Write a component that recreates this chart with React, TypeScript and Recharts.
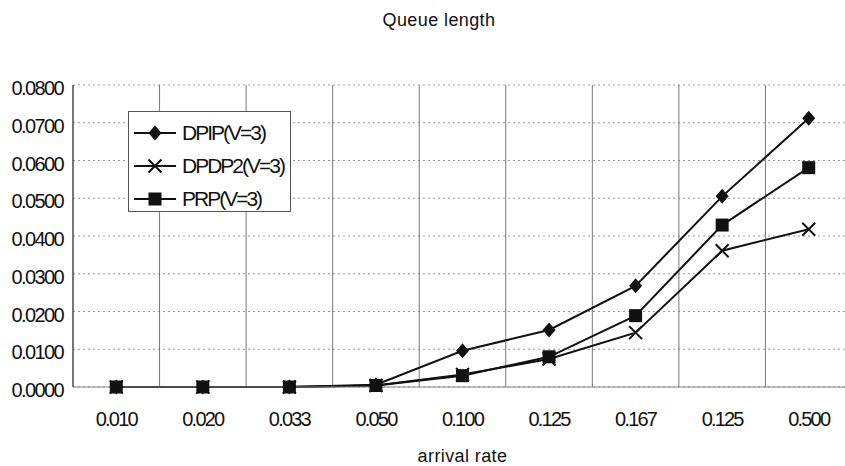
import { LineChart, Line, XAxis, YAxis, CartesianGrid, Legend } from 'recharts';

const rates = ['0.010', '0.020', '0.033', '0.050', '0.100', '0.125', '0.167', '0.125', '0.500'];
const dpip = [0, 0, 0, 0.0006, 0.0096, 0.0151, 0.0268, 0.0505, 0.0712];
const dpdp2 = [0, 0, 0, 0.0004, 0.0033, 0.0074, 0.0144, 0.0361, 0.0418];
const prp = [0, 0, 0, 0.0004, 0.003, 0.008, 0.0189, 0.0429, 0.0581];
const yTicks = [0, 0.01, 0.02, 0.03, 0.04, 0.05, 0.06, 0.07, 0.08];

const data = rates.map((rate, i) => ({ rate, dpip: dpip[i], dpdp2: dpdp2[i], prp: prp[i] }));

const FONT = '"Liberation Sans", Arial, sans-serif';
const INK = '#111';

const CHART_W = 870;
const CHART_H = 466;
const MARGIN = { top: 85, right: 18, left: 0, bottom: 0 };
const Y_AXIS_W = 73;
// half a category slot on each side, so points sit mid-cell
const plotW = CHART_W - MARGIN.left - MARGIN.right - Y_AXIS_W;
const halfSlot = plotW / rates.length / 2;

type MarkerKind = 'diamond' | 'cross' | 'square';

function markerShape(kind: MarkerKind, cx: number, cy: number) {
  if (kind === 'diamond') {
    return <path d={`M${cx},${cy - 7.5} L${cx + 6.5},${cy} L${cx},${cy + 7.5} L${cx - 6.5},${cy} Z`} fill={INK} />;
  }
  if (kind === 'square') {
    return <rect x={cx - 6.5} y={cy - 6.5} width={13} height={13} fill={INK} />;
  }
  return (
    <path d={`M${cx - 6.5},${cy - 6.5} L${cx + 6.5},${cy + 6.5} M${cx + 6.5},${cy - 6.5} L${cx - 6.5},${cy + 6.5}`} stroke={INK} strokeWidth={2} />
  );
}

const dotFor = (kind: MarkerKind) => (props: any) => {
  const { cx, cy, index } = props;
  if (cx == null || cy == null) return <g key={`m-${kind}-${index}`} />;
  return <g key={`m-${kind}-${index}`}>{markerShape(kind, cx, cy)}</g>;
};

const series: { key: string; name: string; kind: MarkerKind }[] = [
  { key: 'dpip', name: 'DPIP(V=3)', kind: 'diamond' },
  { key: 'dpdp2', name: 'DPDP2(V=3)', kind: 'cross' },
  { key: 'prp', name: 'PRP(V=3)', kind: 'square' },
];

function LegendBox() {
  return (
    <div
      style={{
        border: '1px solid #555',
        background: '#fff',
        width: 161,
        height: 95,
        boxSizing: 'content-box',
        fontFamily: FONT,
        fontSize: 21,
        letterSpacing: -2,
        color: INK,
        paddingTop: 4,
      }}
    >
      {series.map((s) => (
        <div key={s.key} style={{ display: 'flex', alignItems: 'center', height: 33 }}>
          <svg width={50} height={20} style={{ marginLeft: 3 }}>
            <line x1={2} y1={10} x2={44} y2={10} stroke={INK} strokeWidth={2} />
            {markerShape(s.kind, 23, 10)}
          </svg>
          <span>{s.name}</span>
        </div>
      ))}
    </div>
  );
}

// vertical grid lines sit on the category boundaries, like a spreadsheet chart
const boundaryLines = ({ offset }: any) =>
  rates.map((_, i) => offset.left + (offset.width * i) / rates.length).concat(offset.left + offset.width);

export default function App() {
  return (
    <div style={{ position: 'absolute', left: 0, top: 0, width: 845, height: 466, overflow: 'hidden', background: '#fff' }}>
      <div
        style={{
          position: 'absolute',
          left: 0,
          width: 878,
          top: 10,
          textAlign: 'center',
          fontFamily: FONT,
          fontSize: 18,
          letterSpacing: 0.4,
          color: INK,
        }}
      >
        Queue length
      </div>
      <LineChart width={CHART_W} height={CHART_H} data={data} margin={MARGIN}>
        <CartesianGrid vertical={false} stroke="#999" strokeDasharray="2 3" />
        <CartesianGrid horizontal={false} stroke="#777" verticalCoordinatesGenerator={boundaryLines} />
        <XAxis
          dataKey="rate"
          padding={{ left: halfSlot, right: halfSlot }}
          height={79}
          tickLine={false}
          tickSize={0}
          tickMargin={25}
          interval={0}
          axisLine={{ stroke: '#888' }}
          tick={{ fill: INK, fontSize: 20, fontFamily: FONT, letterSpacing: -1.8 }}
          label={{ value: 'arrival rate', position: 'insideBottom', offset: 4, fill: INK, fontSize: 18, fontFamily: FONT, letterSpacing: 0.4 }}
        />
        <YAxis
          width={Y_AXIS_W}
          domain={[0, 0.08]}
          ticks={yTicks}
          tickFormatter={(v: number) => v.toFixed(4)}
          tickLine={false}
          tickSize={0}
          tickMargin={10}
          axisLine={{ stroke: '#333' }}
          tick={{ fill: INK, fontSize: 20, fontFamily: FONT, letterSpacing: -1.6, dy: 3 }}
        />
        <Legend
          layout="vertical"
          align="center"
          verticalAlign="middle"
          wrapperStyle={{ left: 128, top: 111, width: 'auto' }}
          content={() => <LegendBox />}
        />
        {series.map((s) => (
          <Line
            key={s.key}
            dataKey={s.key}
            name={s.name}
            stroke={INK}
            strokeWidth={2}
            dot={dotFor(s.kind)}
            activeDot={false}
            isAnimationActive={false}
          />
        ))}
      </LineChart>
    </div>
  );
}
